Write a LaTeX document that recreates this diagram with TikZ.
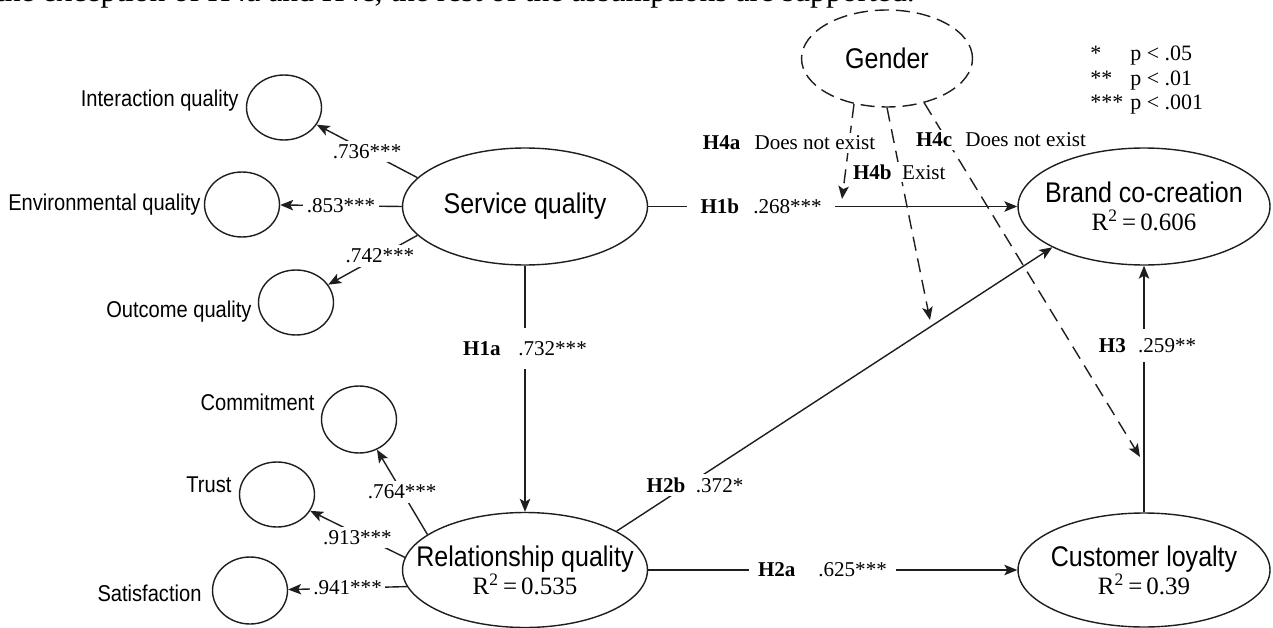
\documentclass[tikz,border=0pt]{standalone}
\usepackage{fontspec}
\setmainfont{Liberation Serif}
\newfontfamily\sansnarrow[FakeStretch=0.88]{Liberation Sans}
\usepackage{tikz}
\usetikzlibrary{positioning,arrows.meta,shapes.geometric}
\definecolor{ink}{HTML}{1E1E1E}
\newcommand{\constructfont}{\sansnarrow\fontsize{16.2}{16}\selectfont}
\newcommand{\itemfont}{\sansnarrow\fontsize{13}{15}\selectfont}
\newcommand{\coeffont}{\fontsize{12}{14}\selectfont}
\newcommand{\rsq}[1]{{\rmfamily\fontsize{14.2}{16}\selectfont R\textsuperscript{2}\,=\,#1}}
\tikzset{
  construct/.style={ellipse, draw=ink, line width=0.8pt, inner sep=0pt,
                    minimum width=4.9cm, minimum height=2.34cm},
  dimension/.style={ellipse, draw=ink, line width=0.8pt, inner sep=0pt,
                    minimum width=1.5cm, minimum height=1.3cm},
  moderator/.style={construct, dash pattern=on 8pt off 4pt,
                    minimum width=3.42cm, minimum height=1.94cm},
  ctext/.style={font=\constructfont, align=center, inner sep=0pt},
  itemtext/.style={font=\itemfont, inner sep=0pt},
  coef/.style={font=\coeffont, fill=white, inner sep=2pt},
  hyp/.style={font=\coeffont, fill=white, inner sep=2pt},
  modlabel/.style={font=\coeffont, fill=white, inner sep=1.5pt, anchor=west},
  legendtext/.style={font=\fontsize{12.5}{14}\selectfont, inner sep=0pt},
  loading/.style={-{Stealth[length=2.6mm, width=2.1mm, inset=0.6mm]}, line width=0.8pt, draw=ink},
  effect/.style={loading},
  moderation/.style={loading, dash pattern=on 8pt off 4.5pt}
}

\begin{document}
\begin{tikzpicture}[x=0.02cm, y=-0.02cm, node distance=4pt]
\useasboundingbox (0,0) rectangle (1273,628);
\begin{scope}
\clip (0,0) rectangle (1273,628);
\node[anchor=base east, inner sep=0pt, font=\fontsize{18}{20}\selectfont] (caption) at (915,2)
  {the exception of H4a and H4c, the rest of the assumptions are supported.};
\end{scope}

\node[construct, label={[ctext]center:Service quality}] (sq) at (525,206.5) {};
\node[construct, minimum height=2.3cm,
  label={[ctext]center:{Relationship quality\\\rsq{0.535}}}] (rq) at (525,570) {};
\node[construct, minimum width=5.04cm,
  label={[ctext]center:{Brand co-creation\\\rsq{0.606}}}] (bc) at (1144,206.5) {};
\node[construct, minimum width=5.04cm, minimum height=2.28cm,
  label={[ctext]center:{Customer loyalty\\\rsq{0.39}}}] (cl) at (1144,570) {};
\node[moderator, label={[ctext]center:Gender}] (gd) at (887,58.5) {};

\node[dimension] (iq) at (284,107.5) {};
\node[dimension] (eq) at (242,204.5) {};
\node[dimension] (oq) at (296,302.5) {};
\node[dimension, minimum height=1.34cm] (cm) at (359,419.5) {};
\node[dimension] (tr) at (277,494.5) {};
\node[dimension, minimum height=1.34cm] (sa) at (250,590.5) {};

\node[itemtext, left=4pt of iq, yshift=3.7pt] (iqtext) {Interaction quality};
\node[itemtext, left=1.7pt of eq] (eqtext) {Environmental quality};
\node[itemtext, left=3.4pt of oq, yshift=-5.4pt] (oqtext) {Outcome quality};
\node[itemtext, left=3.4pt of cm, yshift=10pt] (cmtext) {Commitment};
\node[itemtext, left=4pt of tr, yshift=5.4pt] (trtext) {Trust};
\node[itemtext, left=5.7pt of sa, yshift=-1.4pt] (satext) {Satisfaction};

\draw[loading] (sq.165) -- node[coef] {.736***} (iq);
\draw[loading] (sq.west) -- node[coef] {.853***} (eq);
\draw[loading] (sq.195) -- node[coef, pos=0.42] {.742***} (oq);
\draw[loading] (rq.160) -- node[coef] {.764***} (cm);
\draw[loading] (rq.174) -- node[coef, pos=0.5, yshift=-2pt] {.913***} (tr);
\draw[loading] (rq.188) -- node[coef] {.941***} (sa);

\coordinate (h4aend) at (842,199);
\coordinate (h4bend) at (930,320);
\coordinate (h4cend) at (1140,457);
\draw[moderation] (gd.234) -- (h4aend);
\draw[moderation] (gd.south) -- (h4bend);
\draw[moderation] (gd.310) -- (h4cend);

\draw[effect] (sq) -- node[hyp, pos=0.336, inner ysep=7.5pt] {\textbf{H1a}\hspace{10pt}.732***} (rq);
\draw[effect] (sq) -- node[hyp, pos=0.306, inner xsep=7.5pt] {\textbf{H1b}\hspace{8pt}.268***} (bc);
\draw[effect] (rq.23) -- node[hyp, pos=0.18, yshift=-3pt] {\textbf{H2b}\hspace{6pt}.372*} (bc.204);
\draw[effect] (rq) -- node[hyp, pos=0.472, inner xsep=5pt] {\textbf{H2a}\hspace{13pt}.625***} (cl);
\draw[effect] (cl) -- node[hyp, pos=0.677, inner ysep=5.5pt, xshift=2pt] {\textbf{H3}\hspace{7pt}.259**} (bc);

\node[modlabel] (h4a) at (700,143) {\textbf{H4a}\hspace{8pt}Does not exist};
\node[modlabel] (h4b) at (850,172) {\textbf{H4b}\hspace{6pt}Exist};
\node[modlabel] (h4c) at (913,140) {\textbf{H4c}\hspace{7.4pt}Does not exist};

\node[legendtext, anchor=north west] (legend) at (1090,43)
  {\begin{tabular}{@{}l@{\hspace{4pt}}l@{}}
   {*} & p < .05\\
   {**} & p < .01\\
   {***} & p < .001
   \end{tabular}};
\end{tikzpicture}
\end{document}
